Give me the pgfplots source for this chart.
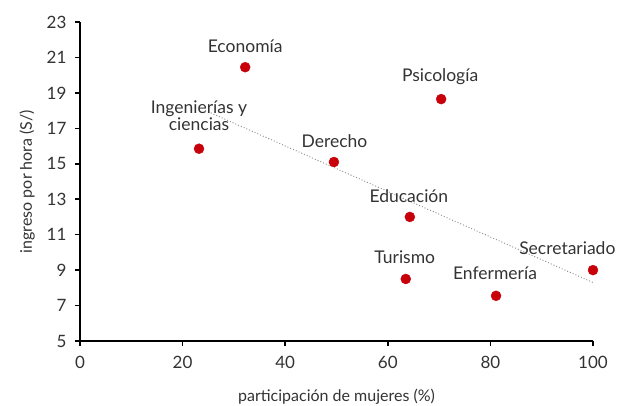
\documentclass[border=0pt]{standalone}
\usepackage{pgfplots}
\pgfplotsset{compat=1.18}
\usepackage{fontspec}
\setmainfont{Lato}
\definecolor{dotred}{HTML}{C8000A}
\definecolor{txt}{HTML}{333333}
\begin{document}
\begin{tikzpicture}
\begin{axis}[
  scale only axis,
  width=513pt, height=319pt,
  xmin=0, xmax=100, ymin=5, ymax=23,
  xtick={0,20,...,100}, ytick={5,7,...,23},
  axis lines*=left,
  axis line style={black, line width=1.5pt},
  tick style={black, line width=1.5pt},
  tick align=outside, major tick length=5pt,
  /pgf/number format/assume math mode=true,
  ticklabel style={font=\fontsize{17}{20}\selectfont, text=txt},
  xticklabel style={yshift=-7pt},
  yticklabel style={xshift=-5pt},
  xlabel={participación de mujeres (\%)},
  ylabel={ingreso por hora (S/)},
  label style={font=\fontsize{16}{19}\selectfont, text=txt},
  xlabel style={at={(axis description cs:0.5,-0.176)}, anchor=center},
  ylabel style={at={(axis description cs:-0.103,0.5)}, anchor=center},
  clip=false,
]
\addplot[color=black!45, line width=1.3pt, line cap=round, dash pattern=on 0pt off 3pt] coordinates {(24.5,18.0) (100,8.3)};
\addplot[only marks, mark=*, mark size=5pt, color=dotred] coordinates {
(32.2,20.45) (23.2,15.85) (49.5,15.1) (70.4,18.65) (64.3,12.0) (63.5,8.5) (81.1,7.55) (100,9.0)
};
\begin{scope}[every node/.style={font=\fontsize{17.5}{20}\selectfont, text=txt, align=center}]
\node at (axis cs:32.2,21.65) {Economía};
\node at (axis cs:23.2,17.7) {Ingenierías y\\[-3pt]ciencias};
\node at (axis cs:49.6,16.3) {Derecho};
\node at (axis cs:70.2,19.9) {Psicología};
\node at (axis cs:64.1,13.2) {Educación};
\node at (axis cs:63.3,9.74) {Turismo};
\node at (axis cs:80.9,8.84) {Enfermería};
\node at (axis cs:95.0,10.25) {Secretariado};
\end{scope}
\end{axis}
\pgfresetboundingbox
\path (current axis.south west) ++(-80pt,-64pt) coordinate (bl);
\path (current axis.north east) ++(29pt,22pt) coordinate (tr);
\path (bl) rectangle (tr);
\end{tikzpicture}
\end{document}
